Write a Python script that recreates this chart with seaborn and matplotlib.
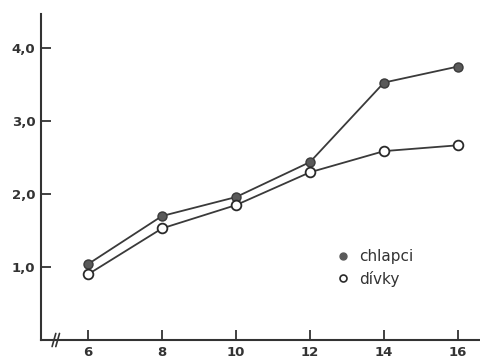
import matplotlib
matplotlib.use("Agg")
import matplotlib.pyplot as plt
from matplotlib.lines import Line2D
import seaborn as sns
import pandas as pd

ages = [6, 8, 10, 12, 14, 16]
chlapci = [1.04, 1.70, 1.96, 2.44, 3.53, 3.75]
divky = [0.90, 1.53, 1.85, 2.30, 2.59, 2.67]
yticks = [1.0, 2.0, 3.0, 4.0]
ytick_labels = ["1,0", "2,0", "3,0", "4,0"]
series_names = ["chlapci", "dívky"]

sns.set_theme(style="white")
plt.rcParams['font.family'] = ['DejaVu Sans']

fig = plt.figure(figsize=(4.81, 3.60), dpi=100)
ax = fig.add_axes([41/481, 20/360, 1 - 41/481, 326/360])

line_col = "#3a3a3a"
df_c = pd.DataFrame({"age": ages, "val": chlapci})
df_d = pd.DataFrame({"age": ages, "val": divky})
sns.lineplot(data=df_c, x="age", y="val", ax=ax, color=line_col, lw=1.3,
             marker="o", markersize=6.5, markerfacecolor="#5a5a5a",
             markeredgecolor="#3a3a3a", markeredgewidth=1.0, zorder=3)
sns.lineplot(data=df_d, x="age", y="val", ax=ax, color=line_col, lw=1.3,
             marker="o", markersize=7, markerfacecolor="white",
             markeredgecolor="#2a2a2a", markeredgewidth=1.3, zorder=3)

ax.set_xlim(4.73, 16.62)
ax.set_ylim(0, 4.47)
ax.set_xticks(ages)
ax.set_xticklabels([str(a) for a in ages])
ax.set_yticks(yticks)
ax.set_yticklabels(ytick_labels)
ax.set_xlabel("")
ax.set_ylabel("")
for s in ["top", "right"]:
    ax.spines[s].set_visible(False)
for s in ["left", "bottom"]:
    ax.spines[s].set_color("#333333")
    ax.spines[s].set_linewidth(1.5)
ax.tick_params(axis="both", direction="in", length=7, width=1.3, color="#333333",
               labelsize=9.5, labelcolor="#333333", left=True, bottom=True)
ax.tick_params(axis="x", pad=4)
ax.tick_params(axis="y", pad=4)
for lab in ax.get_xticklabels() + ax.get_yticklabels():
    lab.set_fontweight("bold")

# axis break marks
for dx in [0.0, 0.1]:
    ax.plot([5.03 + dx, 5.13 + dx], [-0.09, 0.09], color="#333333", lw=1.2,
            clip_on=False, zorder=5)

handles = [
    Line2D([], [], ls="none", marker="o", markersize=5, markerfacecolor="#5a5a5a",
           markeredgecolor="#5a5a5a"),
    Line2D([], [], ls="none", marker="o", markersize=5, markerfacecolor="white",
           markeredgecolor="#2a2a2a", markeredgewidth=1.2),
]
leg = ax.legend(handles, series_names, loc="upper left", bbox_to_anchor=(0.658, 0.303),
                frameon=False, fontsize=11, handlelength=0.6, handletextpad=0.8,
                labelspacing=0.45, borderpad=0)
for t in leg.get_texts():
    t.set_color("#333333")

fig.savefig("out.png", dpi=100)
